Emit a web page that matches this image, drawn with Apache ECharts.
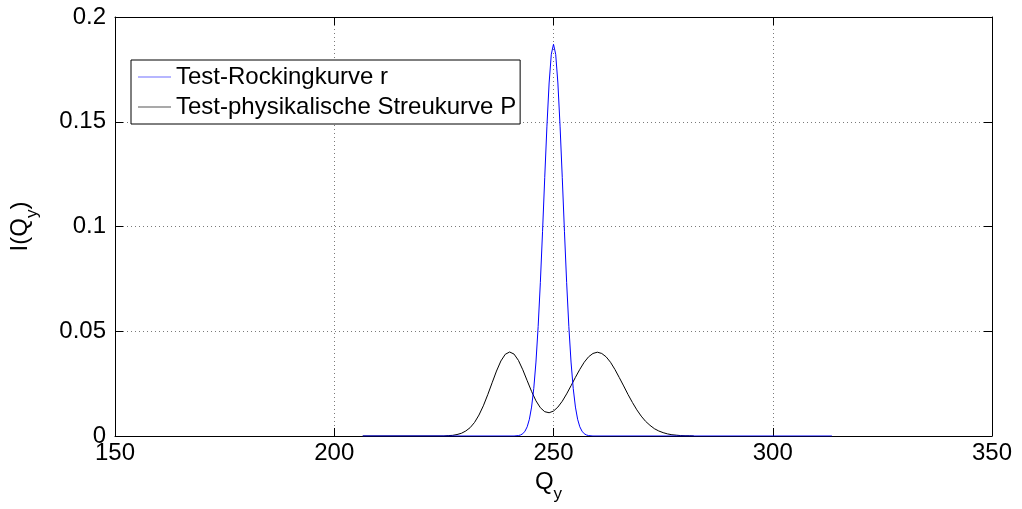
<!DOCTYPE html>
<html>
<head>
<meta charset="utf-8">
<script src="https://cdn.jsdelivr.net/npm/echarts@6/dist/echarts.min.js"></script>
<style>
  html, body { margin: 0; padding: 0; background: #ffffff; }
  #chart { width: 1022px; height: 509px; }
</style>
</head>
<body>
<div id="chart"></div>
<script>
// Axis ranges and tick labels
const xTickValues = [150, 200, 250, 300, 350];
const yTickValues = [0, 0.05, 0.1, 0.15, 0.2];

// Test-Rockingkurve r
const rockingQ = [206.5, 241, 242, 242.5, 243, 243.5, 244, 244.5, 245, 245.5, 246, 246.5, 247, 247.5,
  248, 248.5, 249, 249.5, 250, 250.5, 251, 251.5, 252, 252.5, 253, 253.5, 254, 254.5, 255, 255.5,
  256, 256.5, 257, 257.5, 258, 259, 313.5];
const rockingI = [0, 0, 0.0002, 0.0005, 0.0011, 0.0023, 0.0044, 0.0080, 0.0138, 0.0227, 0.0353, 0.0522, 0.0732, 0.0975,
  0.1233, 0.1479, 0.1685, 0.1822, 0.187, 0.1822, 0.1685, 0.1479, 0.1233, 0.0975, 0.0732, 0.0522, 0.0353, 0.0227, 0.0138, 0.0080,
  0.0044, 0.0023, 0.0011, 0.0005, 0.0002, 0, 0];

// Test-physikalische Streukurve P
const streuQ = [206.5, 225, 226, 227, 228, 229, 230, 231, 232, 233, 234, 235, 236, 237, 238, 239, 240,
  241, 242, 243, 244, 245, 246, 247, 248, 249, 250, 251, 252, 253, 254, 255, 256, 257, 258, 259, 260,
  261, 262, 263, 264, 265, 266, 267, 268, 269, 270, 271, 272, 273, 274, 275, 276, 277, 278, 279, 280,
  281, 282, 313.5];
const streuI = [0, 0, 0.0002, 0.0003, 0.0007, 0.0013, 0.0024, 0.0040, 0.0065, 0.0100, 0.0144, 0.0197, 0.0254, 0.0310, 0.0358, 0.0390, 0.0401,
  0.0391, 0.0361, 0.0316, 0.0264, 0.0213, 0.0168, 0.0135, 0.0116, 0.0111, 0.0119, 0.0138, 0.0166, 0.0201, 0.0240, 0.0280, 0.0318, 0.0352, 0.0378, 0.0394, 0.0400,
  0.0394, 0.0378, 0.0352, 0.0318, 0.0279, 0.0239, 0.0198, 0.0160, 0.0125, 0.0095, 0.0070, 0.0051, 0.0035, 0.0024, 0.0016, 0.0010, 0.0006, 0.0004, 0.0002, 0.0001,
  0.0001, 0];

const seriesNames = ['Test-Rockingkurve r', 'Test-physikalische Streukurve P'];
const seriesColors = ['#0000ff', '#000000'];

const FONT = '"Liberation Sans", Arial, Helvetica, sans-serif';
const pairs = (xs, ys) => xs.map((x, i) => [x, ys[i]]);

const xStep = xTickValues[1] - xTickValues[0];
const yStep = yTickValues[1] - yTickValues[0];

const gridLine = { show: true, lineStyle: { color: '#7a7a7a', width: 1, type: [1, 3] } };
const tickIn = { show: true, inside: true, length: 8, lineStyle: { color: '#000', width: 1 } };
const lineBlack = { show: true, onZero: false, lineStyle: { color: '#000', width: 1 } };

const titleRich = {
  q: { fontFamily: FONT, fontSize: 24, color: '#000', verticalAlign: 'bottom', padding: [0, 0, 9, 0] },
  s: { fontFamily: FONT, fontSize: 17, color: '#000', verticalAlign: 'bottom' }
};

const chart = echarts.init(document.getElementById('chart'), null, { renderer: 'canvas' });
chart.setOption({
  animation: false,
  backgroundColor: '#ffffff',
  grid: { left: 110, right: 30, top: 17, bottom: 73, containLabel: false },
  legend: {
    orient: 'vertical',
    left: 131,
    top: 60,
    padding: [5, 4, 5, 7],
    itemGap: 6,
    itemWidth: 33,
    itemHeight: 1,
    icon: 'rect',
    backgroundColor: '#ffffff',
    borderColor: '#000',
    borderWidth: 1,
    textStyle: { fontFamily: FONT, fontSize: 24, color: '#000' },
    data: seriesNames.map((n, i) => ({ name: n, itemStyle: { color: i === 0 ? '#6f6fff' : '#555555' } }))
  },
  xAxis: [
    {
      type: 'value',
      min: xTickValues[0], max: xTickValues[xTickValues.length - 1], interval: xStep,
      position: 'bottom',
      axisLine: lineBlack,
      axisTick: tickIn,
      splitLine: gridLine,
      axisLabel: { fontFamily: FONT, fontSize: 24, color: '#000', margin: 5 },
      name: '{q|Q}{s|y}',
      nameLocation: 'middle',
      nameGap: 34,
      nameTextStyle: { rich: titleRich, padding: [0, 10, 0, 0] }
    },
    {
      type: 'value',
      min: xTickValues[0], max: xTickValues[xTickValues.length - 1], interval: xStep,
      position: 'top',
      axisLine: lineBlack,
      axisTick: tickIn,
      splitLine: { show: false },
      axisLabel: { show: false }
    }
  ],
  yAxis: [
    {
      type: 'value',
      min: yTickValues[0], max: yTickValues[yTickValues.length - 1], interval: yStep,
      position: 'left',
      axisLine: lineBlack,
      axisTick: tickIn,
      splitLine: gridLine,
      axisLabel: { fontFamily: FONT, fontSize: 24, color: '#000', margin: 9 },
      name: '{q|I(Q}{s|y}{q|)}',
      nameLocation: 'middle',
      nameGap: 74,
      nameTextStyle: { rich: titleRich }
    },
    {
      type: 'value',
      min: yTickValues[0], max: yTickValues[yTickValues.length - 1], interval: yStep,
      position: 'right',
      axisLine: lineBlack,
      axisTick: tickIn,
      splitLine: { show: false },
      axisLabel: { show: false }
    }
  ],
  series: [
    {
      name: seriesNames[0],
      type: 'line',
      xAxisIndex: 0, yAxisIndex: 0,
      data: pairs(rockingQ, rockingI),
      showSymbol: false,
      symbol: 'none',
      z: 4,
      color: seriesColors[0],
      lineStyle: { color: seriesColors[0], width: 1 }
    },
    {
      name: seriesNames[1],
      type: 'line',
      xAxisIndex: 0, yAxisIndex: 0,
      data: pairs(streuQ, streuI),
      showSymbol: false,
      symbol: 'none',
      z: 3,
      color: seriesColors[1],
      lineStyle: { color: seriesColors[1], width: 1 }
    }
  ]
});
</script>
</body>
</html>
